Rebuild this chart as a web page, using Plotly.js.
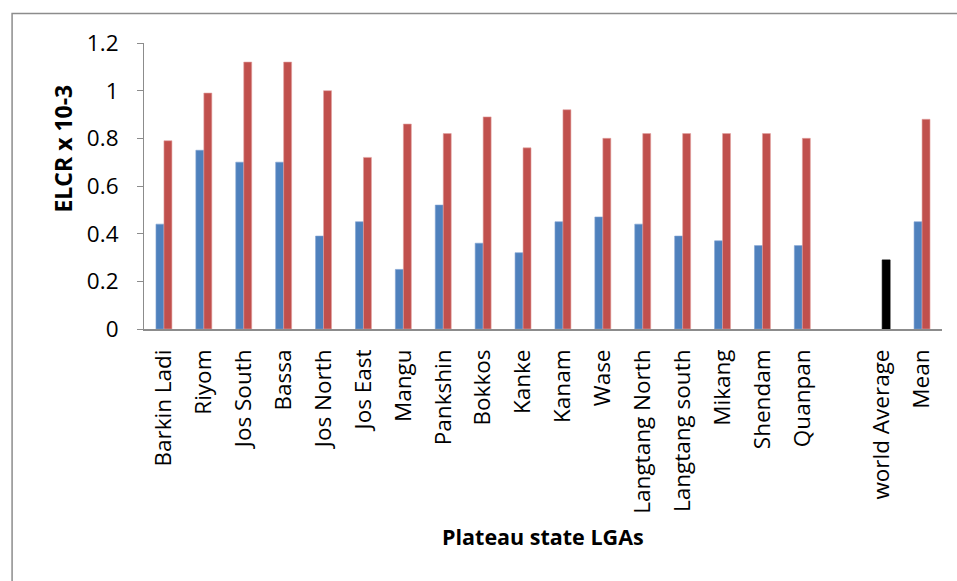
<!DOCTYPE html>
<html>
<head>
<meta charset="utf-8">
<script src="https://cdn.plot.ly/plotly-3.0.1.min.js"></script>
<style>
  html, body { margin: 0; padding: 0; background: #ffffff; }
  #chart { width: 957px; height: 581px; }
</style>
</head>
<body>
<div id="chart"></div>
<script>
// ---- data ----
const categories = ["Barkin Ladi", "Riyom", "Jos South", "Bassa", "Jos North", "Jos East", "Mangu",
  "Pankshin", "Bokkos", "Kanke", "Kanam", "Wase", "Langtang North", "Langtang south", "Mikang",
  "Shendam", "Quanpan", " ", "world Average", "Mean"];
const seriesBlue = [0.44, 0.75, 0.70, 0.70, 0.39, 0.45, 0.25, 0.52, 0.36, 0.32, 0.45, 0.47, 0.44,
  0.39, 0.37, 0.35, 0.35, null, null, 0.45];
const seriesRed = [0.79, 0.99, 1.12, 1.12, 1.00, 0.72, 0.86, 0.82, 0.89, 0.76, 0.92, 0.80, 0.82,
  0.82, 0.82, 0.82, 0.80, null, 0.29, 0.88];
const yTicks = [0, 0.2, 0.4, 0.6, 0.8, 1, 1.2];
const yTickLabels = ["0", "0.2", "0.4", "0.6", "0.8", "1", "1.2"];
const xTitle = "Plateau state LGAs";
const yTitle = "ELCR x 10-3";

// ---- styling ----
const BLUE = "#4F81BD", RED = "#C0504D", BLACK = "#000000";
const redColors = categories.map(c => c === "world Average" ? BLACK : RED);
const FONT = "Open Sans, Liberation Sans, sans-serif";

const W = 957, H = 581;
const M = { l: 143.5, r: 15, t: 43, b: 252 };
const pw = W - M.l - M.r, ph = H - M.t - M.b;
const px2x = p => (p - M.l) / pw;
const py2y = p => (H - M.b - p) / ph;

const traces = [
  { type: "bar", x: categories, y: seriesBlue, marker: { color: BLUE, line: { color: "#7FA3D3", width: 0.6 } },
    hoverinfo: "x+y", showlegend: false },
  { type: "bar", x: categories, y: seriesRed, marker: { color: redColors, line: { color: redColors.map(c => c === BLACK ? BLACK : "#E3A3A1"), width: 0.6 } },
    hoverinfo: "x+y", showlegend: false }
];

const layout = {
  width: W, height: H,
  margin: M,
  paper_bgcolor: "#ffffff", plot_bgcolor: "#ffffff",
  font: { family: FONT, color: "#000000", size: 22 },
  barmode: "group", bargap: 0.6, bargroupgap: 0,
  xaxis: {
    type: "category", tickangle: -90, ticks: "", showgrid: false,
    showline: true, linecolor: "#8C8C8C", linewidth: 1.5,
    tickfont: { family: FONT, size: 22.5, color: "#000" },
    ticklabelstandoff: 10,
    fixedrange: true
  },
  yaxis: {
    range: [0, 1.2], tickvals: yTicks, ticktext: yTickLabels,
    ticks: "outside", ticklen: 6, tickcolor: "#8C8C8C", tickwidth: 1,
    showgrid: false, zeroline: false,
    showline: true, linecolor: "#8C8C8C", linewidth: 1,
    tickfont: { family: FONT, size: 22.5, color: "#000" },
    ticklabelstandoff: 14,
    fixedrange: true
  },
  annotations: [
    { text: "<b>" + yTitle + "</b>", xref: "paper", yref: "paper", x: px2x(62), y: py2y(149),
      textangle: -90, showarrow: false, xanchor: "center", yanchor: "middle",
      font: { family: FONT, size: 23, color: "#000" } },
    { text: "<b>" + xTitle + "</b>", xref: "paper", yref: "paper", x: px2x(543), y: py2y(536),
      showarrow: false, xanchor: "center", yanchor: "middle",
      font: { family: FONT, size: 21.5, color: "#000" } }
  ],
  shapes: [
    { type: "rect", xref: "paper", yref: "paper", x0: px2x(11.5), x1: px2x(990), y0: py2y(620), y1: py2y(13.5),
      line: { color: "#8C8C8C", width: 1.5 }, fillcolor: "rgba(0,0,0,0)" }
  ]
};

Plotly.newPlot("chart", traces, layout, { displayModeBar: false, staticPlot: true });
</script>
</body>
</html>
